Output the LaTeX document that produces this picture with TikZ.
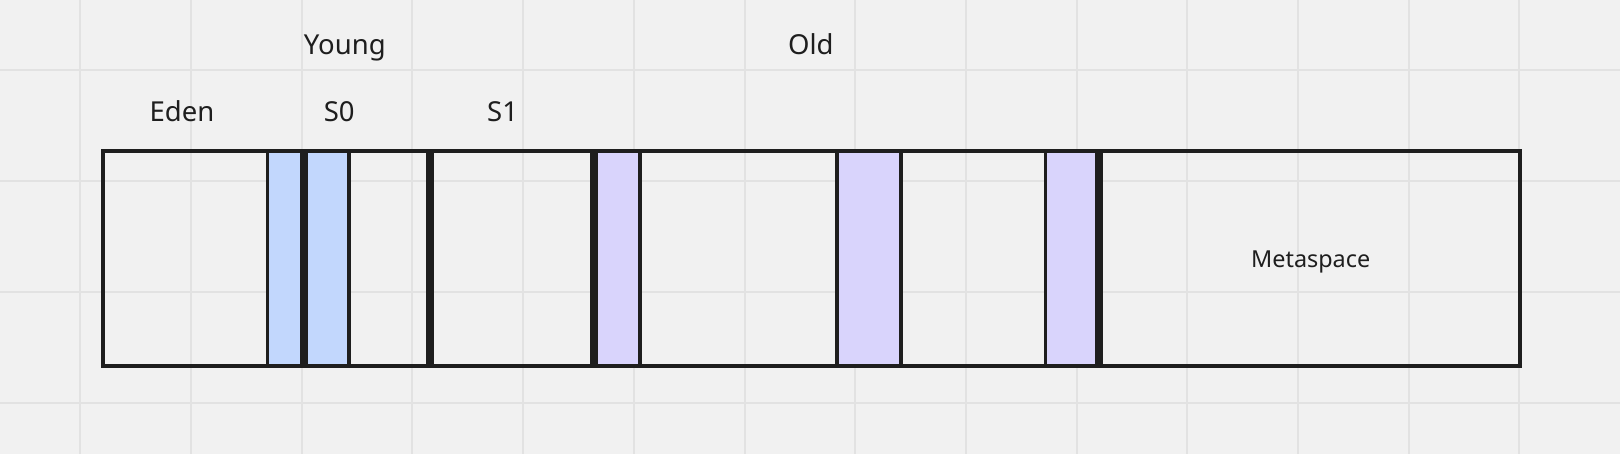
\documentclass[tikz,border=0pt]{standalone}
\usepackage{fontspec}
\setmainfont{Noto Sans}
\definecolor{bg}{HTML}{F1F1F1}
\definecolor{gridc}{HTML}{E2E2E2}
\definecolor{ink}{HTML}{1E1E1E}
\definecolor{blu}{HTML}{C2D7FD}
\definecolor{pur}{HTML}{D9D4FC}
\begin{document}
\begin{tikzpicture}[x=1pt,y=-1pt,
  gridline/.style={gridc,line width=2pt},
  outer/.style={ink,line width=4pt},
  thin/.style={ink,line width=3.6pt},
  thick/.style={ink,line width=8.3pt},
  lbl/.style={inner sep=0pt,anchor=base,text=ink,font=\fontsize{27.5pt}{33pt}\selectfont},
  small/.style={inner sep=0pt,anchor=base,text=ink,font=\fontsize{23.4pt}{28pt}\selectfont}]
\fill[bg] (0,0) rectangle (1620,454);
\useasboundingbox (0,0) rectangle (1620,454);
\foreach \i in {0,...,13} \draw[gridline] ({80.3+110.7*\i},0) -- ++(0,454);
\foreach \j in {0,...,3} \draw[gridline] (0,{70.5+110.7*\j}) -- ++(1620,0);
% fills
\fill[blu] (269,151) rectangle (300,366);
\fill[blu] (308.3,151) rectangle (347.3,366);
\fill[pur] (598.3,151) rectangle (637.7,366);
\fill[pur] (839.3,151) rectangle (899,366);
\fill[pur] (1047.3,151) rectangle (1095,366);
% dividers
\foreach \x in {267.4,349.2,639.7,837.2,900.7,1045.3} \draw[thin] (\x,151.3) -- (\x,365.5);
\foreach \x in {304.2,429.9,594.2,1099.2} \draw[thick] (\x,151.3) -- (\x,365.5);
% outer frame
\draw[outer] (103,151.3) rectangle (1520.3,365.5);
% labels
\node[lbl] (young) at (344.8,55) {Young};
\node[lbl] (old) at (810.8,55) {Old};
\node[lbl] (eden) at (182,122) {Eden};
\node[lbl] (s0) at (339.3,122) {S0};
\node[lbl] (s1) at (502.6,122) {S1};
\node[small] (meta) at (1310.7,267.7) {Metaspace};
\end{tikzpicture}
\end{document}
